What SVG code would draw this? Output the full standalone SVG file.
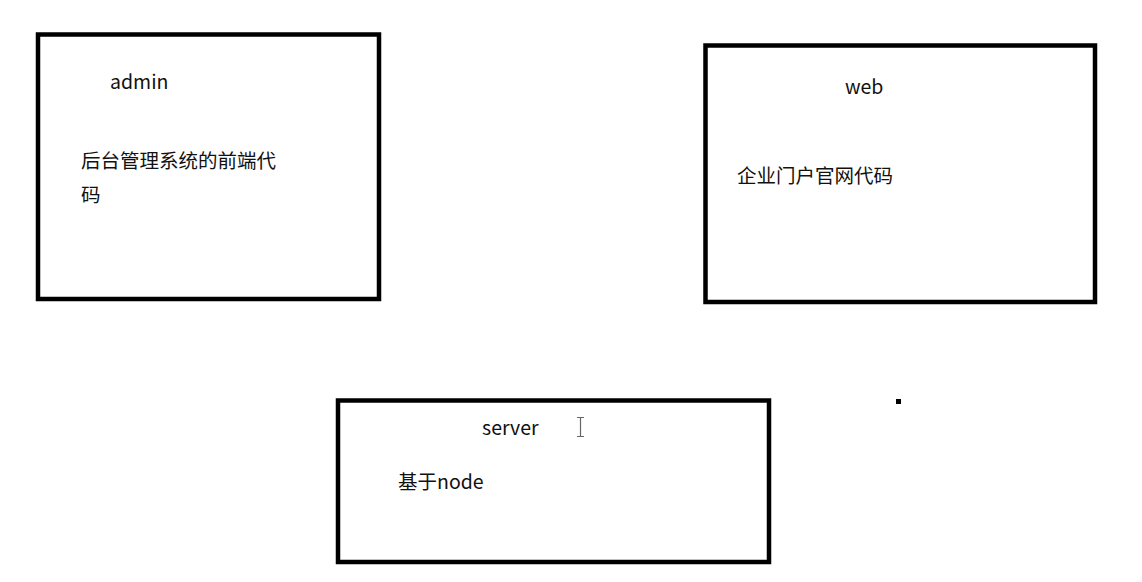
<svg xmlns="http://www.w3.org/2000/svg" width="1142" height="582" viewBox="0 0 1142 582">
<style>
.box{fill:#fff;stroke:#000;stroke-width:4.5}
.t{font-family:"Noto Sans CJK SC","Noto Sans",sans-serif;font-size:19.5px;fill:#111}
</style>
<rect width="1142" height="582" fill="#fff"/>
<g id="admin">
<rect class="box" x="38" y="34.5" width="341" height="264.5"/>
<text class="t" x="110" y="88.5">admin</text>
<text class="t" x="81" y="167.5">后台管理系统的前端代</text>
<text class="t" x="81" y="201.5">码</text>
</g>
<g id="web">
<rect class="box" x="705.5" y="45.5" width="389.5" height="256.5"/>
<text class="t" x="845" y="93.5">web</text>
<text class="t" x="737" y="182.5">企业门户官网代码</text>
</g>
<g id="server">
<rect class="box" x="338" y="400.5" width="431" height="161.5"/>
<text class="t" x="482" y="434.5">server</text>
<text class="t" x="398" y="488.5">基于node</text>
</g>
<g id="connectors"></g>
<g id="marks">
<path d="M577 417.5h7M580.5 417.5v19M577 436.5h7" stroke="#666" stroke-width="1.2" fill="none"/>
<rect x="896" y="399" width="5" height="5" fill="#000"/>
</g>
</svg>
